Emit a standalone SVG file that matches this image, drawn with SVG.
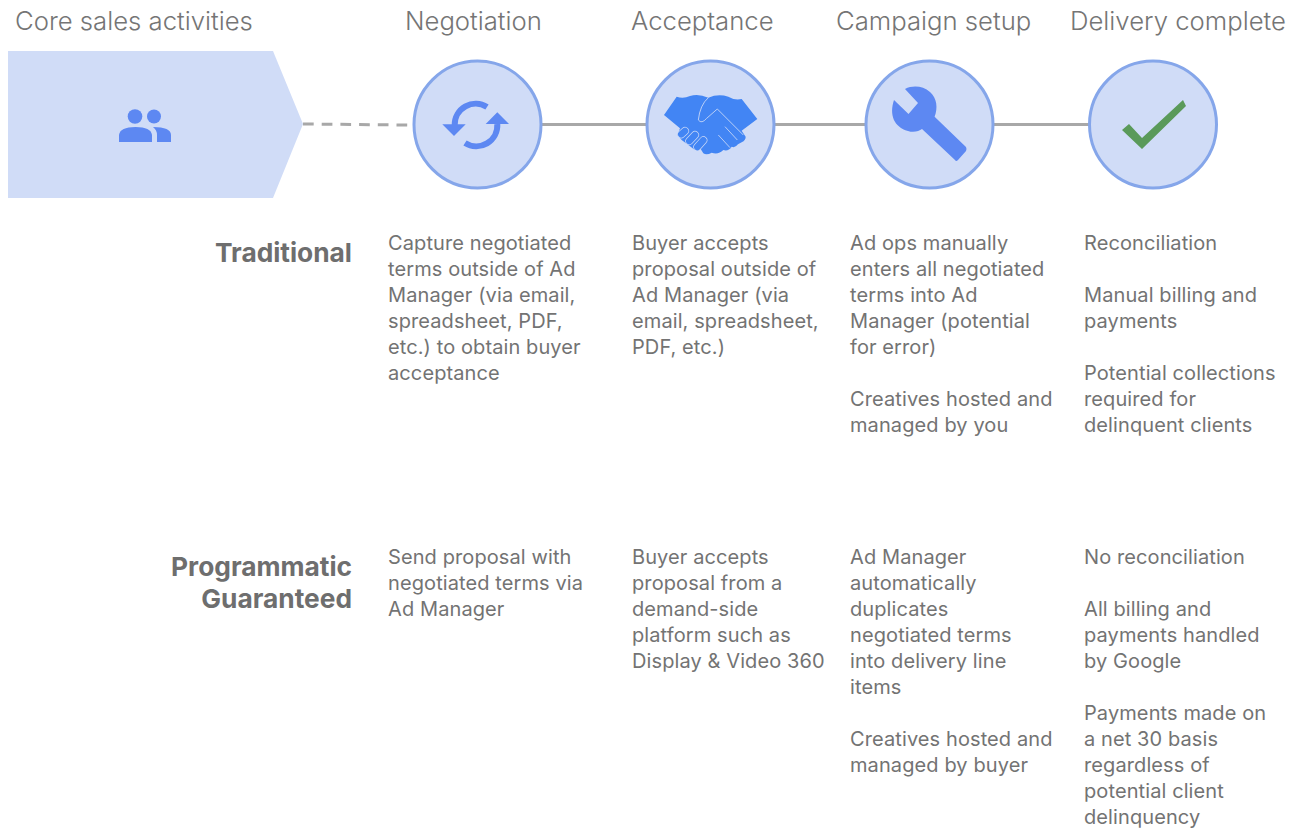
<svg xmlns="http://www.w3.org/2000/svg" width="1302" height="831" viewBox="0 0 1302 831">
<style>
text{font-family:"Inter","Liberation Sans",sans-serif;fill:#737373}
.h{font-size:25.700px;fill:#757575;font-weight:300}
.b{font-size:20px;font-weight:400;fill:#737373;letter-spacing:.1px}
.l{font-size:26.300px;font-weight:700;text-anchor:end;fill:#6e6e6e}
.c{fill:#d0dcf7;stroke:#85a6ea;stroke-width:3}
.i{fill:#5d88f2}
.conn{stroke:#a8a8a8;stroke-width:3;fill:none}
</style>
<rect width="1302" height="831" fill="#fff"/>
<g id="connectors">
<path class="conn" stroke-dasharray="10.700 8" d="M303 124L407.500 125"/>
<path class="conn" d="M542 124.500H646M775 124.500H865M994 124.500H1089"/>
</g>
<g id="core">
<path d="M8 51H273L303 124L273 198H8Z" fill="#d0dcf7"/>
<g class="i"><circle cx="135" cy="116.500" r="7.300"/><circle cx="154" cy="116.500" r="7"/>
<path d="M119 142V135Q120 127 135.500 127Q151 127 152 135V142Z"/><path d="M153 127Q171 127 171 135V142H157V135Q157 130 153 127Z"/></g>
<text class="h" x="15" y="30">Core sales activities</text>
</g>
<g id="negotiation">
<circle class="c" cx="477.500" cy="124.500" r="63.500"/>
<path d="M454.700 125A21 21 0 0 1 487 107M497.300 124A21 21 0 0 1 465 143" fill="none" stroke="#5d88f2" stroke-width="6"/>
<path class="i" d="M442.300 124.300H465.700L454 136ZM485.700 124H509L497.300 112.300Z"/>
<text class="h" x="405" y="30">Negotiation</text>
<text class="b" x="388" y="250">Capture negotiated</text><text class="b" x="388" y="276">terms outside of Ad</text><text class="b" x="388" y="302">Manager (via email,</text><text class="b" x="388" y="328">spreadsheet, PDF,</text><text class="b" x="388" y="354">etc.) to obtain buyer</text><text class="b" x="388" y="380">acceptance</text>
<text class="b" x="388" y="564">Send proposal with</text><text class="b" x="388" y="590">negotiated terms via</text><text class="b" x="388" y="616">Ad Manager</text>
</g>
<g id="acceptance">
<circle class="c" cx="710.500" cy="124.500" r="63.500"/>
<g transform="translate(640 85) scale(.3333)">
<path fill="#4285f4" d="M72 90L110 35Q130 42 150 33Q175 25 205 38Q235 25 265 35Q285 47 305 42L352 102L305 137L317 155Q318 165 305 172L294 178Q285 190 275 185Q265 200 250 195Q235 210 215 203Q200 212 190 205L182 192L165 195L145 180L125 165L112 150L120 130Z"/>
<g fill="none" stroke="#d0dcf7" stroke-width="2.500"><path d="M205 38Q180 60 175 105Q185 118 200 100L232 72L310 150"/><path d="M255 125L292 165M235 150L270 188"/></g>
<g fill="none" stroke-linecap="round"><path d="M124 148L135 138M148 168L165 150M172 186L190 166" stroke="#d0dcf7" stroke-width="24"/><path d="M124 148L135 138M148 168L165 150M172 186L190 166" stroke="#4285f4" stroke-width="20"/></g>
</g>
<text class="h" x="631" y="30">Acceptance</text>
<text class="b" x="632" y="250">Buyer accepts</text><text class="b" x="632" y="276">proposal outside of</text><text class="b" x="632" y="302">Ad Manager (via</text><text class="b" x="632" y="328">email, spreadsheet,</text><text class="b" x="632" y="354">PDF, etc.)</text>
<text class="b" x="632" y="564">Buyer accepts</text><text class="b" x="632" y="590">proposal from a</text><text class="b" x="632" y="616">demand-side</text><text class="b" x="632" y="642">platform such as</text><text class="b" x="632" y="668">Display &amp; Video 360</text>
</g>
<g id="campaign-setup">
<circle class="c" cx="929.500" cy="124.500" r="63.500"/>
<path class="i" d="M905 89L918 103L908.500 114L894 100C889 115 894 127 908 131C914 133 919 131 922 129L955 160Q956 162 958 160L966 151Q967 149 966 147L934.600 116.700C938 108 937 98 930 92C923 86 913 85 905 89Z"/>
<text class="h" x="836" y="30">Campaign setup</text>
<text class="b" x="850" y="250">Ad ops manually</text><text class="b" x="850" y="276">enters all negotiated</text><text class="b" x="850" y="302">terms into Ad</text><text class="b" x="850" y="328">Manager (potential</text><text class="b" x="850" y="354">for error)</text><text class="b" x="850" y="406">Creatives hosted and</text><text class="b" x="850" y="432">managed by you</text>
<text class="b" x="850" y="564">Ad Manager</text><text class="b" x="850" y="590">automatically</text><text class="b" x="850" y="616">duplicates</text><text class="b" x="850" y="642">negotiated terms</text><text class="b" x="850" y="668">into delivery line</text><text class="b" x="850" y="694">items</text><text class="b" x="850" y="746">Creatives hosted and</text><text class="b" x="850" y="772">managed by buyer</text>
</g>
<g id="delivery-complete">
<circle class="c" cx="1153" cy="124.500" r="63.500"/>
<path fill="#5a9a5a" d="M1122 130L1129 124L1142 138L1183 100L1186 106L1142 149Z"/>
<text class="h" x="1070" y="30">Delivery complete</text>
<text class="b" x="1084" y="250">Reconciliation</text><text class="b" x="1084" y="302">Manual billing and</text><text class="b" x="1084" y="328">payments</text><text class="b" x="1084" y="380">Potential collections</text><text class="b" x="1084" y="406">required for</text><text class="b" x="1084" y="432">delinquent clients</text>
<text class="b" x="1084" y="564">No reconciliation</text><text class="b" x="1084" y="616">All billing and</text><text class="b" x="1084" y="642">payments handled</text><text class="b" x="1084" y="668">by Google</text><text class="b" x="1084" y="720">Payments made on</text><text class="b" x="1084" y="746">a net 30 basis</text><text class="b" x="1084" y="772">regardless of</text><text class="b" x="1084" y="798">potential client</text><text class="b" x="1084" y="824">delinquency</text>
</g>
<g id="traditional"><text class="l" x="352" y="262">Traditional</text></g>
<g id="programmatic-guaranteed"><text class="l" x="352" y="576">Programmatic</text><text class="l" x="352" y="608">Guaranteed</text></g>
</svg>
